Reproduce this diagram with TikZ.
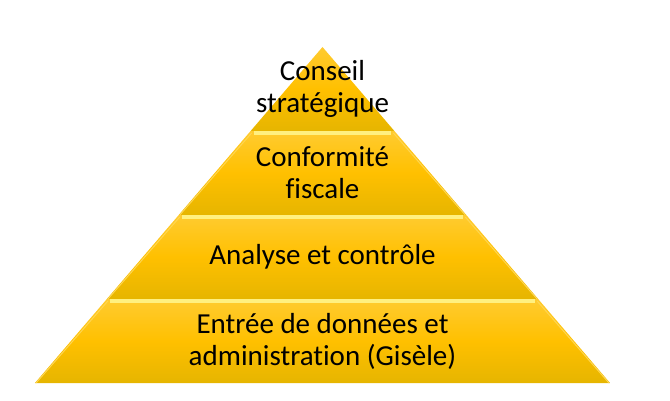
\documentclass[tikz,border=0pt]{standalone}
\usepackage{fontspec}
\setmainfont{Carlito}[Ligatures=CommonOff]
\definecolor{goldMid}{HTML}{FFC000}
\definecolor{goldTop}{HTML}{FFCB30}
\definecolor{goldLow}{HTML}{E6B500}
\definecolor{goldLight}{HTML}{FFF080}
\definecolor{goldEdge}{HTML}{FFD650}
\begin{document}
\begin{tikzpicture}[x=1pt,y=1pt,
    pyrBand/.style={top color=goldTop,bottom color=goldLow,middle color=goldMid},
    pyrShine/.style={goldLight,line width=3.5pt},
    pyrEdge/.style={goldEdge,line width=1pt},
    pyrText/.style={font=\fontsize{29}{32}\selectfont,align=center,text=black},
]
\useasboundingbox (0,0) rectangle (670,400);
% Corners of the layers
\coordinate (apex) at (322.5,353);
\coordinate (l1) at (250.625,269);
\coordinate (r1) at (394.375,269);
\coordinate (l2) at (178.75,185);
\coordinate (r2) at (466.25,185);
\coordinate (l3) at (106.875,101);
\coordinate (r3) at (538.125,101);
\coordinate (l4) at (35,17);
\coordinate (r4) at (610,17);
% Layers
\shade[pyrBand] (apex) -- (r1) -- (l1) -- cycle;
\shade[pyrBand] (l1) -- (r1) -- (r2) -- (l2) -- cycle;
\shade[pyrBand] (l2) -- (r2) -- (r3) -- (l3) -- cycle;
\shade[pyrBand] (l3) -- (r3) -- (r4) -- (l4) -- cycle;
% Bevel on the sides
\draw[pyrEdge] ([shift={(1,-2)}]l1) -- ([shift={(1,0)}]l2);
\draw[pyrEdge] ([shift={(1,-2)}]l2) -- ([shift={(1,0)}]l3);
\draw[pyrEdge] ([shift={(1,-2)}]l3) -- ([shift={(1,0)}]l4);
\draw[pyrEdge] ([shift={(-1,-2)}]r1) -- ([shift={(-1,0)}]r2);
\draw[pyrEdge] ([shift={(-1,-2)}]r2) -- ([shift={(-1,0)}]r3);
\draw[pyrEdge] ([shift={(-1,-2)}]r3) -- ([shift={(-1,0)}]r4);
% Shine under each step
\draw[pyrShine] ([shift={(3,-2)}]l1) -- ([shift={(-3,-2)}]r1);
\draw[pyrShine] ([shift={(3,-2)}]l2) -- ([shift={(-3,-2)}]r2);
\draw[pyrShine] ([shift={(3,-2)}]l3) -- ([shift={(-3,-2)}]r3);
% Labels
\node[pyrText] (conseil) at (322.5,311) {Conseil\\stratégique};
\node[pyrText] (conformite) at (322.5,227) {Conformité\\fiscale};
\node[pyrText] (analyse) at (322.5,143) {Analyse et contrôle};
\node[pyrText] (entree) at (322.5,59) {Entrée de données et\\administration (Gisèle)};
\end{tikzpicture}
\end{document}
